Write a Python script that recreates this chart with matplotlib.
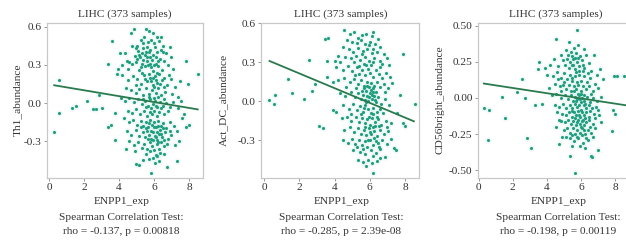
import matplotlib
matplotlib.use("Agg")
import matplotlib.pyplot as plt
import numpy as np

plt.rcParams['font.family'] = ['Liberation Serif', 'DejaVu Serif']
plt.rcParams['axes.unicode_minus'] = False

title = "LIHC (373 samples)"
xlabel = "ENPP1_exp"
ylabels = ["Th1_abundance", "Act_DC_abundance", "CD56bright_abundance"]
stats = ["rho = -0.137, p = 0.00818", "rho = -0.285, p = 2.39e-08", "rho = -0.198, p = 0.00119"]

# ---- panel 1: Th1 ----
p1 = [
(4.86,0.58),(5.52,0.58),(5.73,0.57),(5.92,0.55),(4.67,0.55),(6.38,0.52),(6.30,0.49),(5.26,0.50),(5.67,0.48),(5.01,0.45),
(4.73,0.45),(6.91,0.44),(6.50,0.45),(6.53,0.40),(4.06,0.39),(4.34,0.39),(4.44,0.33),(5.10,0.41),(5.35,0.43),(5.55,0.40),
(5.80,0.42),(6.05,0.44),(6.20,0.40),(4.90,0.37),(5.05,0.35),(5.20,0.36),(5.40,0.34),(5.48,0.38),(5.60,0.33),(5.75,0.36),
(5.90,0.34),(6.10,0.36),(6.35,0.35),(6.60,0.33),(4.60,0.32),(4.75,0.31),(5.30,0.31),(5.50,0.29),(5.65,0.30),(5.85,0.28),
(6.00,0.30),(6.25,0.29),(6.80,0.30),(7.10,0.27),(4.20,0.30),(3.96,0.27),(4.50,0.27),(5.15,0.26),(5.95,0.25),(6.45,0.26),
(7.00,0.36),(6.70,0.39),(5.40,0.47),(5.85,0.50),(6.15,0.52),
(5.12,0.38),(5.32,0.39),(5.58,0.36),(5.70,0.40),(5.95,0.38),(6.25,0.33),(5.00,0.32),(5.25,0.28),(5.78,0.31),(6.12,0.31),
(4.98,0.43),(5.62,0.44),(6.40,0.42),(5.45,0.52),(6.00,0.47),
(3.90,0.23),(4.15,0.22),(4.53,0.18),(4.80,0.21),(5.05,0.19),(5.25,0.15),(5.45,0.22),(5.60,0.17),(5.78,0.20),(5.92,0.14),
(6.05,0.21),(6.18,0.16),(6.30,0.23),(6.45,0.18),(6.60,0.20),(6.75,0.14),(6.95,0.19),(7.20,0.13),(7.50,0.17),(4.40,0.12),
(4.70,0.10),(4.95,0.08),(5.15,0.11),(5.35,0.06),(5.55,0.12),(5.70,0.07),(5.88,0.10),(6.10,0.08),(6.25,0.12),(6.40,0.06),
(6.65,0.09),(7.05,0.07),(7.40,0.05),(5.00,0.14),(6.85,0.22),
(5.70,0.23),(5.85,0.17),(6.00,0.13),(6.15,0.24),(6.35,0.15),(5.50,0.19),(5.30,0.24),(6.55,0.13),(6.10,0.18),(5.95,0.20),
(4.10,0.04),(4.35,0.02),(4.60,0.04),(4.85,0.01),(5.10,0.03),(5.30,-0.01),(5.50,0.02),(5.65,-0.02),(5.80,0.03),(5.95,-0.01),
(6.08,0.02),(6.20,-0.03),(6.35,0.01),(6.50,-0.02),(6.70,0.00),(6.90,-0.03),(7.10,0.01),(7.35,-0.04),(4.50,-0.06),(4.75,-0.08),
(5.00,-0.05),(5.20,-0.09),(5.42,-0.06),(5.58,-0.10),(5.75,-0.07),(5.90,-0.09),(6.02,-0.06),(6.15,-0.10),(6.30,-0.07),(6.55,-0.09),
(5.55,-0.03),(5.70,0.05),(5.85,-0.04),(6.00,0.04),(6.12,-0.02),(6.25,0.05),(6.40,-0.04),(6.60,0.03),(5.40,0.03),(6.80,-0.06),
(4.30,-0.12),(4.55,-0.15),(4.80,-0.13),(5.05,-0.17),(5.25,-0.14),(5.40,-0.18),(5.52,-0.15),(5.65,-0.19),(5.78,-0.13),(5.88,-0.17),
(6.00,-0.15),(6.12,-0.19),(6.25,-0.14),(6.38,-0.18),(6.52,-0.16),(6.70,-0.20),(6.90,-0.15),(7.15,-0.18),(4.45,-0.22),(4.70,-0.25),
(4.95,-0.21),(5.15,-0.26),(5.35,-0.23),(5.50,-0.27),(5.62,-0.22),(5.72,-0.25),(5.82,-0.28),(5.95,-0.23),(6.05,-0.26),(6.18,-0.29),
(6.30,-0.24),(6.45,-0.27),(6.62,-0.23),(6.80,-0.28),(7.00,-0.25),(7.30,-0.22),(4.60,-0.30),(4.85,-0.33),(5.10,-0.31),(5.30,-0.35),
(5.45,-0.32),(5.60,-0.36),(5.75,-0.31),(5.90,-0.34),(6.02,-0.37),(6.15,-0.32),(6.28,-0.36),(6.40,-0.31),(6.58,-0.34),(6.75,-0.32),
(7.20,-0.33),(4.40,-0.36),(4.90,-0.38),(5.55,-0.40),(6.10,-0.41),
(5.55,-0.20),(5.70,-0.16),(5.85,-0.22),(6.00,-0.19),(6.15,-0.23),(6.25,-0.18),(6.35,-0.21),(6.50,-0.20),(5.95,-0.29),(6.10,-0.27),
(6.22,-0.31),(5.65,-0.28),(6.40,-0.24),(5.80,-0.38),(6.35,-0.39),(6.60,-0.29),(6.90,-0.22),(5.25,-0.19),
(4.95,-0.48),(5.15,-0.49),(5.70,-0.44),(5.95,-0.43),(6.05,-0.47),(6.30,-0.46),(5.85,-0.55),(6.20,-0.42),(5.40,-0.45),(6.55,-0.40),
(0.30,-0.23),(0.60,0.18),(0.55,-0.08),(1.30,-0.04),(1.55,-0.02),(2.20,0.02),(2.50,-0.05),(2.70,-0.05),(2.85,0.06),(3.05,-0.04),
(3.35,-0.19),(3.40,0.31),(3.55,-0.17),(3.60,0.49),(3.75,-0.29),(3.80,-0.08),(7.85,0.33),(8.50,0.23),(8.00,-0.17),(7.85,-0.19),
(7.70,-0.09),(7.55,0.02),(7.30,-0.46),(6.75,-0.50),(7.95,0.15),(7.45,-0.30),(7.60,-0.12),
]

# ---- panel 2: Act_DC ----
p2 = [
(4.55,0.55),(4.85,0.52),(5.10,0.53),(5.55,0.51),(5.80,0.52),(6.20,0.53),(6.45,0.48),(4.70,0.47),(5.00,0.46),(5.25,0.45),
(5.50,0.47),(5.70,0.44),(6.00,0.46),(6.30,0.44),(6.60,0.42),(4.50,0.42),(4.80,0.40),(5.05,0.38),(5.30,0.41),(5.60,0.39),
(5.85,0.40),(6.10,0.37),(6.40,0.38),(6.80,0.36),(4.20,0.35),(4.60,0.34),(4.95,0.33),(5.20,0.35),(5.45,0.32),(5.75,0.34),
(5.95,0.31),(6.25,0.33),(6.55,0.31),(7.00,0.33),(4.30,0.30),(5.10,0.30),(5.65,0.29),(6.05,0.28),(6.70,0.29),(4.00,0.31),
(4.10,0.26),(4.45,0.24),(4.75,0.27),(5.00,0.23),(5.25,0.26),(5.40,0.21),(5.58,0.24),(5.72,0.20),(5.90,0.25),(6.02,0.22),
(6.18,0.19),(6.35,0.24),(6.50,0.21),(6.68,0.18),(6.90,0.22),(7.15,0.19),(4.20,0.16),(4.55,0.18),(4.85,0.15),(5.12,0.17),
(5.35,0.13),(5.50,0.16),(5.68,0.12),(5.82,0.15),(5.95,0.11),(6.08,0.14),(6.25,0.12),(6.42,0.15),(6.60,0.11),(6.80,0.13),
(7.05,0.10),(7.25,0.14),(4.65,0.11),(5.20,0.10),(5.78,0.08),(6.15,0.07),
(4.30,0.06),(4.60,0.04),(4.90,0.07),(5.15,0.03),(5.35,0.06),(5.48,0.02),(5.60,0.05),(5.70,0.01),(5.82,0.04),(5.90,0.00),
(6.00,0.06),(6.10,0.02),(6.22,0.04),(6.32,-0.01),(6.45,0.03),(6.62,-0.02),(6.85,0.02),(7.10,-0.03),(4.50,-0.03),(4.80,-0.06),
(5.05,-0.02),(5.25,-0.07),(5.45,-0.04),(5.62,-0.08),(5.75,-0.03),(5.88,-0.06),(6.05,-0.09),(6.18,-0.05),(6.38,-0.08),(6.55,-0.06),
(6.75,-0.09),(4.10,-0.08),
(5.55,0.08),(5.65,0.10),(5.85,0.12),(6.05,0.09),(6.20,0.10),(6.35,0.07),(5.95,0.03),(6.12,0.05),(6.28,0.01),(5.80,-0.01),
(5.65,-0.05),(5.95,-0.12),(6.20,-0.10),(6.40,-0.12),(5.50,-0.10),(5.75,-0.20),(6.00,-0.24),(6.15,-0.20),(6.30,-0.19),(6.50,-0.19),
(5.90,-0.30),(6.25,-0.28),(6.45,-0.32),(5.62,-0.37),(6.20,-0.42),(5.40,0.27),(5.80,0.28),(6.15,0.30),(5.55,0.36),(5.95,0.43),
(6.20,0.40),(5.35,0.49),(6.10,0.50),(5.15,0.20),(6.55,0.26),(6.85,0.07),(6.95,-0.20),(7.10,0.28),(4.90,-0.10),(5.25,-0.35),
(4.40,-0.13),(4.70,-0.12),(4.95,-0.15),(5.20,-0.12),(5.40,-0.16),(5.55,-0.13),(5.72,-0.17),(5.85,-0.14),(6.00,-0.18),(6.12,-0.13),
(6.28,-0.16),(6.45,-0.14),(6.65,-0.18),(6.90,-0.15),(7.20,-0.17),(4.55,-0.22),(4.85,-0.20),(5.10,-0.24),(5.30,-0.21),(5.50,-0.25),
(5.65,-0.22),(5.80,-0.26),(5.95,-0.21),(6.08,-0.25),(6.22,-0.23),(6.40,-0.27),(6.58,-0.22),(6.78,-0.25),(7.05,-0.23),(4.50,-0.30),
(4.75,-0.32),(5.00,-0.29),(5.18,-0.33),(5.38,-0.30),(5.55,-0.34),(5.70,-0.31),(5.85,-0.35),(6.02,-0.30),(6.15,-0.34),(6.32,-0.31),
(6.50,-0.35),(6.70,-0.30),(7.00,-0.33),(7.20,-0.29),(5.05,-0.38),(5.45,-0.39),(5.75,-0.41),(6.05,-0.38),(6.35,-0.40),(6.60,-0.37),
(5.35,-0.45),(5.60,-0.47),(5.90,-0.45),(6.10,-0.48),(6.40,-0.46),(6.86,-0.43),(6.20,-0.55),(5.80,-0.50),(6.55,-0.44),
(0.28,0.01),(0.57,-0.02),(0.64,0.05),(1.35,0.17),(1.55,0.06),(2.26,0.02),(2.54,0.32),(2.71,0.08),(2.88,0.13),(3.09,-0.19),
(3.36,-0.21),(3.45,0.48),(3.60,0.49),(3.55,0.31),(3.58,0.19),(3.89,0.15),(3.93,-0.07),(7.90,0.36),(8.55,-0.02),(7.90,-0.17),
(8.00,-0.19),(7.72,0.05),(7.56,-0.09),(7.35,-0.36),(7.50,-0.38),
]

# ---- panel 3: CD56bright ----
p3 = [
(4.55,0.41),(5.30,0.39),(5.85,0.37),(5.10,0.33),(5.60,0.35),(6.15,0.34),(4.80,0.30),(5.25,0.30),(5.45,0.29),(5.70,0.31),
(5.95,0.29),(6.30,0.30),(6.75,0.30),(4.40,0.27),(4.95,0.26),(5.20,0.27),(5.38,0.25),(5.55,0.27),(5.78,0.25),(6.05,0.26),
(6.45,0.24),(4.20,0.23),(4.65,0.22),(5.05,0.23),(5.30,0.21),(5.48,0.23),(5.65,0.20),(5.88,0.22),(6.20,0.21),(6.60,0.19),
(7.10,0.20),(3.90,0.21),
(4.00,0.16),(4.35,0.15),(4.60,0.18),(4.85,0.14),(5.00,0.17),(5.18,0.13),(5.35,0.16),(5.50,0.12),(5.62,0.15),(5.75,0.11),
(5.90,0.16),(6.02,0.12),(6.15,0.15),(6.35,0.11),(6.55,0.14),(6.80,0.10),(7.30,0.13),(4.50,0.10),(4.75,0.08),(4.95,0.09),
(5.12,0.06),(5.28,0.09),(5.42,0.05),(5.58,0.08),(5.72,0.06),(5.85,0.09),(5.98,0.05),(6.10,0.08),(6.28,0.06),(6.48,0.08),
(6.70,0.05),(7.00,0.07),(4.15,0.07),
(4.30,0.02),(4.55,0.03),(4.80,0.00),(5.05,0.02),(5.25,-0.01),(5.40,0.02),(5.52,-0.02),(5.65,0.01),(5.78,-0.01),(5.88,0.02),
(5.98,-0.03),(6.08,0.00),(6.20,-0.02),(6.35,0.01),(6.52,-0.03),(6.72,0.00),(6.95,-0.02),(7.20,0.01),(4.45,-0.05),(4.70,-0.06),
(4.95,-0.04),(5.15,-0.07),(5.35,-0.05),(5.50,-0.07),(5.62,-0.04),(5.75,-0.06),(5.90,-0.05),(6.02,-0.08),(6.15,-0.05),(6.30,-0.07),
(6.45,-0.05),(6.65,-0.07),(6.90,-0.06),
(5.60,0.05),(5.80,0.03),(6.00,0.03),(6.15,0.02),(5.70,-0.02),(5.95,-0.01),(6.25,-0.04),(5.45,-0.09),(5.62,-0.14),(5.88,-0.12),
(6.10,-0.15),(6.25,-0.14),(5.75,-0.17),(6.00,-0.20),(6.20,-0.22),(5.50,-0.26),(5.75,-0.27),(6.05,-0.26),(6.30,-0.28),(5.45,0.14),
(5.70,0.18),(5.90,0.19),(6.10,0.19),(5.55,0.23),(5.80,0.28),(6.10,0.23),(5.40,0.32),(5.65,0.28),(6.40,0.17),(4.65,0.13),
(4.85,0.05),(6.55,-0.09),(6.60,0.03),(4.70,-0.15),(6.85,-0.14),(5.15,-0.27),(6.55,-0.20),(5.00,0.11),(6.95,0.16),(7.00,-0.08),
(4.60,-0.10),(4.90,-0.11),(5.10,-0.12),(5.30,-0.10),(5.45,-0.13),(5.58,-0.10),(5.70,-0.12),(5.82,-0.09),(5.95,-0.13),(6.05,-0.10),
(6.18,-0.12),(6.32,-0.10),(6.50,-0.13),(6.75,-0.11),(7.05,-0.12),(4.80,-0.16),(5.05,-0.17),(5.25,-0.15),(5.40,-0.18),(5.55,-0.16),
(5.68,-0.19),(5.80,-0.15),(5.92,-0.18),(6.04,-0.16),(6.15,-0.19),(6.30,-0.17),(6.48,-0.15),(6.70,-0.18),(7.20,-0.17),(4.55,-0.20),
(5.00,-0.22),(5.20,-0.21),(5.38,-0.24),(5.52,-0.21),(5.65,-0.25),(5.78,-0.22),(5.92,-0.24),(6.08,-0.21),(6.22,-0.25),(6.40,-0.22),
(6.60,-0.24),(6.85,-0.21),(4.90,-0.27),(5.35,-0.28),(5.60,-0.30),(5.85,-0.28),(6.10,-0.31),(6.40,-0.29),(6.70,-0.27),(5.45,-0.33),
(5.95,-0.33),(6.25,-0.35),(4.70,-0.32),
(0.29,-0.07),(0.63,-0.08),(0.57,-0.29),(1.37,0.01),(1.55,-0.14),(2.23,0.04),(2.54,0.13),(2.72,0.00),(2.84,-0.28),(3.09,-0.35),
(3.33,-0.05),(3.56,0.25),(3.46,0.20),(3.70,-0.04),(7.96,0.15),(8.10,0.15),(8.55,0.15),(7.83,-0.23),(8.02,-0.11),(7.86,-0.08),
(6.99,-0.36),(5.75,0.47),(5.62,-0.52),(5.36,-0.40),(6.60,-0.40),(6.62,-0.41),
]

# regression lines (x endpoints, y endpoints)
line_x = [[0.3, 8.5], [0.3, 8.5], [0.3, 8.6]]
line_y = [[0.14, -0.05], [0.31, -0.155], [0.10, -0.05]]

yticks = [[0.6, 0.3, 0.0, -0.3], [0.6, 0.3, 0.0, -0.3], [0.50, 0.25, 0.00, -0.25, -0.50]]
ytick_labels = [["0.6", "0.3", "0.0", "-0.3"], ["0.6", "0.3", "0.0", "-0.3"],
                ["0.50", "0.25", "0.00", "-0.25", "-0.50"]]
xticks = [0, 2, 4, 6, 8]

W, H = 626, 242
fig = plt.figure(figsize=(W / 100, H / 100), dpi=100)

# axes boxes in pixels: left, right, top, bottom
boxes = [(47, 203, 23, 178), (260.7, 419, 22.7, 178), (477.7, 635, 23, 178)]
xlims = [(-0.11, 8.8), (-0.2, 8.79), (-0.06, 9.17)]
ylims = [(-0.59, 0.63), (-0.592, 0.605), (-0.555, 0.52)]
title_cx = [124.7, 340.8, 556.2]
text_cx = [121.5, 341.3, 558.3]
ylab_x = [17, 223.3, 440]

pt_color = '#1f9e80'
line_color = '#2a7a4e'
txt_color = '#333333'
spine_color = '#c8c8c8'
fs = 8.2

for i, pts in enumerate([p1, p2, p3]):
    l, r, t, b = boxes[i]
    ax = fig.add_axes([l / W, 1 - b / H, (r - l) / W, (b - t) / H])
    xs = [p[0] for p in pts]
    ys = [p[1] for p in pts]
    ax.scatter(xs, ys, s=22, color=pt_color, alpha=0.06, linewidths=0, zorder=2)
    ax.scatter(xs, ys, s=5, color=pt_color, linewidths=0, zorder=3)
    ax.plot(line_x[i], line_y[i], color=line_color, lw=1.3, zorder=4)
    ax.set_xlim(*xlims[i])
    ax.set_ylim(*ylims[i])
    ax.set_xticks(xticks)
    ax.set_yticks(yticks[i])
    ax.set_yticklabels(ytick_labels[i])
    ax.tick_params(labelsize=fs, colors=txt_color, length=2.5, width=0.6, pad=1.2)
    ax.tick_params(axis='both', color='#888888')
    for s in ax.spines.values():
        s.set_color(spine_color)
        s.set_linewidth(0.9)
    fig.text(title_cx[i] / W, 1 - 14 / H, title, ha='center', va='center', fontsize=fs, color=txt_color)
    fig.text(text_cx[i] / W, 1 - 202 / H, xlabel, ha='center', va='center', fontsize=fs, color=txt_color)
    fig.text(text_cx[i] / W, 1 - 217 / H, "Spearman Correlation Test:", ha='center', va='center', fontsize=fs, color=txt_color)
    fig.text(text_cx[i] / W, 1 - 232 / H, stats[i], ha='center', va='center', fontsize=fs, color=txt_color)
    fig.text(ylab_x[i] / W, 1 - 100 / H, ylabels[i], ha='center', va='center', rotation=90, fontsize=fs, color=txt_color)

fig.savefig("out.png", dpi=100)
